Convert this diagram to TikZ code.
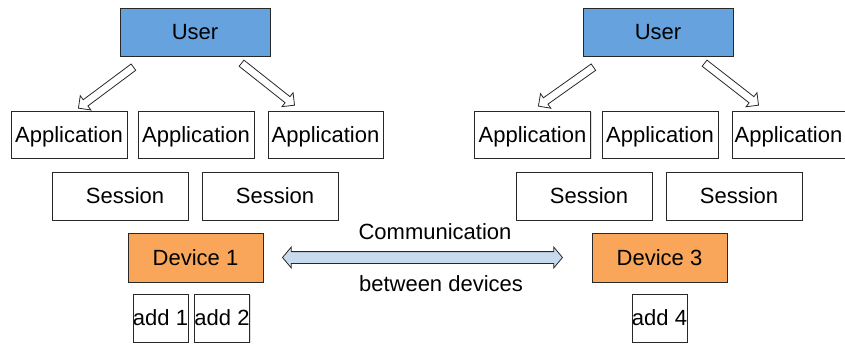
\documentclass[tikz,border=0pt]{standalone}
\usepackage{fontspec}
\setmainfont{Liberation Sans}
\usetikzlibrary{shapes.arrows,shadows}
\definecolor{userblue}{RGB}{102,162,222}
\definecolor{devorange}{RGB}{249,166,90}
\definecolor{commblue}{RGB}{200,218,238}
\definecolor{edge}{RGB}{40,40,40}
\tikzset{
  every node/.style={font=\fontsize{22}{26}\selectfont},
  box/.style={draw=edge, line width=0.9pt, fill=white, inner sep=0pt, outer sep=0pt,
    text height=15.75pt, text depth=0pt,
    drop shadow={opacity=0.25, shadow xshift=1pt, shadow yshift=-1pt}},
  userbox/.style={box, fill=userblue, minimum width=150pt, minimum height=48pt},
  appbox/.style={box, minimum width=116pt, minimum height=47pt},
  sessbox/.style={box, minimum width=136pt, minimum height=48pt},
  devbox/.style={box, fill=devorange, minimum width=135pt, minimum height=49pt},
  addbox/.style={box, minimum width=55pt, minimum height=48pt},
  hollow/.style={single arrow, draw=edge, line width=0.8pt, fill=white, inner sep=3.5pt,
    single arrow head extend=5pt, single arrow tip angle=90, outer sep=0pt},
  lbl/.style={inner sep=0pt, text height=15.75pt, text depth=0pt}
}
\begin{document}
\begin{tikzpicture}[x=1pt,y=1pt]
\useasboundingbox (0,0) rectangle (845,-345);
% left group
\node[userbox] (userL) at (195,-32) {User};
\node[appbox] (appL1) at (69,-134.5) {Application};
\node[appbox] (appL2) at (196,-134.5) {Application};
\node[appbox, minimum width=115pt] (appL3) at (325.5,-134.5) {Application};
\node[sessbox] (sessL1) at (120,-196) {\hspace{10pt}Session};
\node[sessbox] (sessL2) at (270,-196) {\hspace{10pt}Session};
\node[devbox] (dev1) at (195.5,-257.5) {Device 1};
\node[addbox] (add1) at (160.5,-318) {add 1};
\node[addbox, minimum width=54pt] (add2) at (222,-318) {add 2};
% right group
\node[userbox] (userR) at (658,-32) {User};
\node[appbox] (appR1) at (532.5,-134.5) {Application};
\node[appbox] (appR2) at (660,-134.5) {Application};
\node[appbox, minimum width=113pt] (appR3) at (788.5,-134.5) {Application};
\node[sessbox] (sessR1) at (584,-196) {\hspace{10pt}Session};
\node[sessbox] (sessR2) at (734,-196) {\hspace{10pt}Session};
\node[devbox] (dev3) at (659.5,-257.5) {Device 3};
\node[addbox] (add4) at (659.5,-318) {add 4};
% hollow arrows
\node[hollow, rotate=216.7, minimum height=68.6pt] (aL1) at (107.5,-86.5) {};
\node[hollow, rotate=-38.4, minimum height=67.6pt] (aL2) at (266.5,-83) {};
\node[hollow, rotate=215.3, minimum height=67.4pt] (aR1) at (567.5,-85.5) {};
\node[hollow, rotate=-37.9, minimum height=68.4pt] (aR2) at (730,-83) {};
% communication arrow
\node[double arrow, draw=edge, line width=0.8pt, fill=commblue, inner sep=5.5pt,
  double arrow head extend=4.5pt, double arrow tip angle=100, minimum height=280pt] (comm) at (422.5,-257.5) {};
\node[lbl] (commT) at (435,-232) {Communication};
\node[lbl] (commB) at (441,-284) {between devices};
\end{tikzpicture}
\end{document}
